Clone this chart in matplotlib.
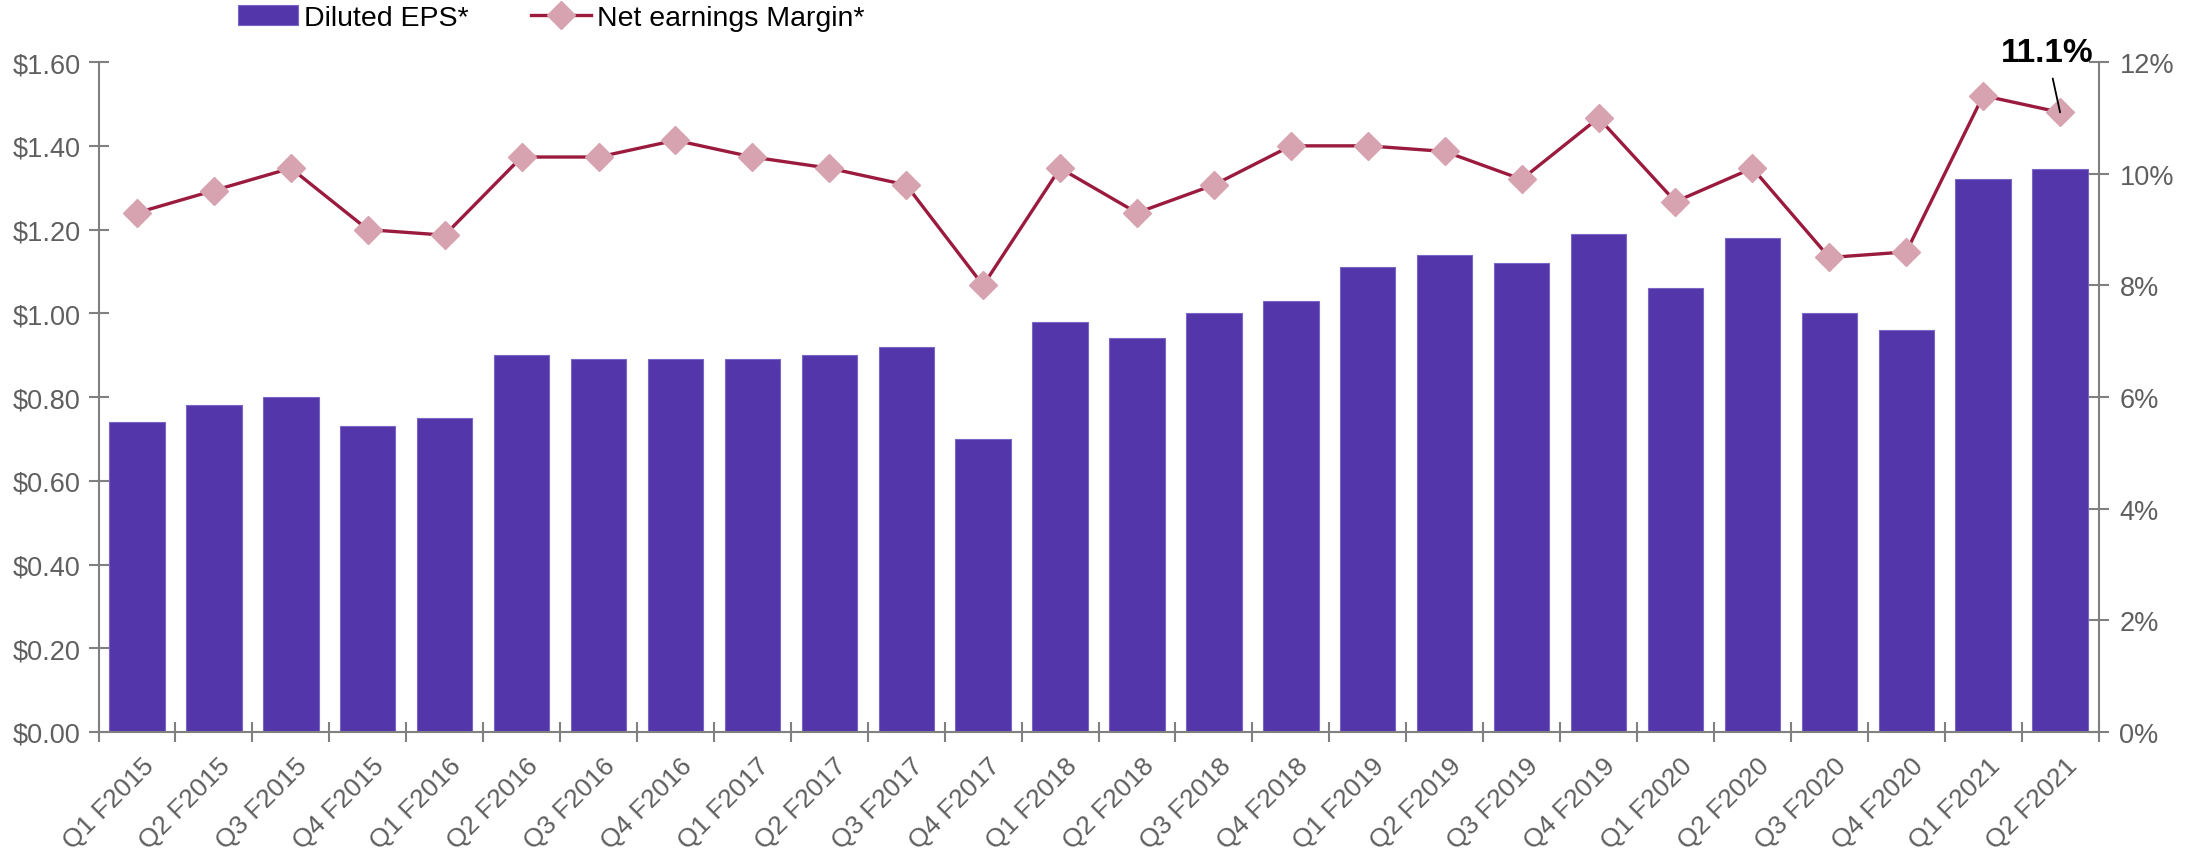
import matplotlib.pyplot as plt
import numpy as np
from matplotlib.ticker import FuncFormatter, MultipleLocator
from matplotlib.transforms import ScaledTranslation

quarters = ["Q1 F2015", "Q2 F2015", "Q3 F2015", "Q4 F2015",
            "Q1 F2016", "Q2 F2016", "Q3 F2016", "Q4 F2016",
            "Q1 F2017", "Q2 F2017", "Q3 F2017", "Q4 F2017",
            "Q1 F2018", "Q2 F2018", "Q3 F2018", "Q4 F2018",
            "Q1 F2019", "Q2 F2019", "Q3 F2019", "Q4 F2019",
            "Q1 F2020", "Q2 F2020", "Q3 F2020", "Q4 F2020",
            "Q1 F2021", "Q2 F2021"]
eps = [0.74, 0.78, 0.80, 0.73, 0.75, 0.90, 0.89, 0.89, 0.89, 0.90, 0.92, 0.70,
       0.98, 0.94, 1.00, 1.03, 1.11, 1.14, 1.12, 1.19, 1.06, 1.18, 1.00, 0.96,
       1.32, 1.345]
margin = [9.3, 9.7, 10.1, 9.0, 8.9, 10.3, 10.3, 10.6, 10.3, 10.1, 9.8, 8.0,
          10.1, 9.3, 9.8, 10.5, 10.5, 10.4, 9.9, 11.0, 9.5, 10.1, 8.5, 8.6,
          11.4, 11.1]

plt.rcParams['font.family'] = ['Liberation Sans', 'DejaVu Sans']
grey = '#808080'
label_grey = '#5f5f5f'

fig = plt.figure(figsize=(22.09, 8.53), dpi=100)
ax = fig.add_axes([0.0446, 0.1407, 0.9054, 0.7853])
x = np.arange(len(quarters))

bars = ax.bar(x, eps, width=0.72, color='#5236AA', edgecolor='#7a66c4', linewidth=0.8,
              label='Diluted EPS*', zorder=2)
ax.set_xlim(-0.5, len(quarters) - 0.5)
ax.set_ylim(0, 1.6)
ax.yaxis.set_major_locator(MultipleLocator(0.2))
ax.yaxis.set_major_formatter(FuncFormatter(lambda v, p: f"${v:.2f}"))

# category boundaries get the ticks, labels sit at the centres
ax.set_xticks(np.arange(-0.5, len(quarters)))
ax.set_xticklabels([])
ax.set_xticks(x, minor=True)
ax.set_xticklabels(quarters, minor=True, rotation=45, ha='right', va='center',
                   rotation_mode='anchor', fontsize=19, color=label_grey)
ax.tick_params(axis='x', which='major', direction='inout', length=14, width=1.5, color=grey)
ax.tick_params(axis='x', which='minor', length=0, pad=0)
shift = ScaledTranslation(0.13, -0.30, fig.dpi_scale_trans)
for lbl in ax.get_xticklabels(minor=True):
    lbl.set_transform(lbl.get_transform() + shift)
ax.tick_params(axis='y', direction='inout', length=14, width=1.5, color=grey,
               labelsize=19.5, labelcolor=label_grey, pad=6)

for s in ['top', 'right']:
    ax.spines[s].set_visible(False)
for s in ['left', 'bottom']:
    ax.spines[s].set_color(grey)
    ax.spines[s].set_linewidth(1.5)

ax2 = ax.twinx()
line, = ax2.plot(x, margin, color='#9B1B3F', lw=2.4, marker='D', ms=14,
                 mfc='#D8A3B0', mec='#D8A3B0', label='Net earnings Margin*', zorder=3)
ax2.set_ylim(0, 12)
ax2.yaxis.set_major_locator(MultipleLocator(2))
ax2.yaxis.set_major_formatter(FuncFormatter(lambda v, p: f"{v:.0f}%"))
ax2.tick_params(axis='y', direction='inout', length=14, width=1.5, color=grey,
                labelsize=19.5, labelcolor=label_grey, pad=8)
for s in ['top', 'left', 'bottom']:
    ax2.spines[s].set_visible(False)
ax2.spines['right'].set_color(grey)
ax2.spines['right'].set_linewidth(1.5)

ax2.annotate(f"{margin[-1]:.1f}%", xy=(x[-1], margin[-1]), xytext=(x[-1] - 0.17, 12.18),
             ha='center', va='center', fontsize=24, fontweight='bold', color='black',
             arrowprops=dict(arrowstyle='-', color='black', lw=1.3, shrinkA=6, shrinkB=0))

fig.legend(handles=[bars, line], loc='center', bbox_to_anchor=(0.2495, 0.978), ncol=2,
           frameon=False, fontsize=20.5, handlelength=2.1, handletextpad=0.2,
           columnspacing=2.2)

fig.savefig('out.png', dpi=100)
